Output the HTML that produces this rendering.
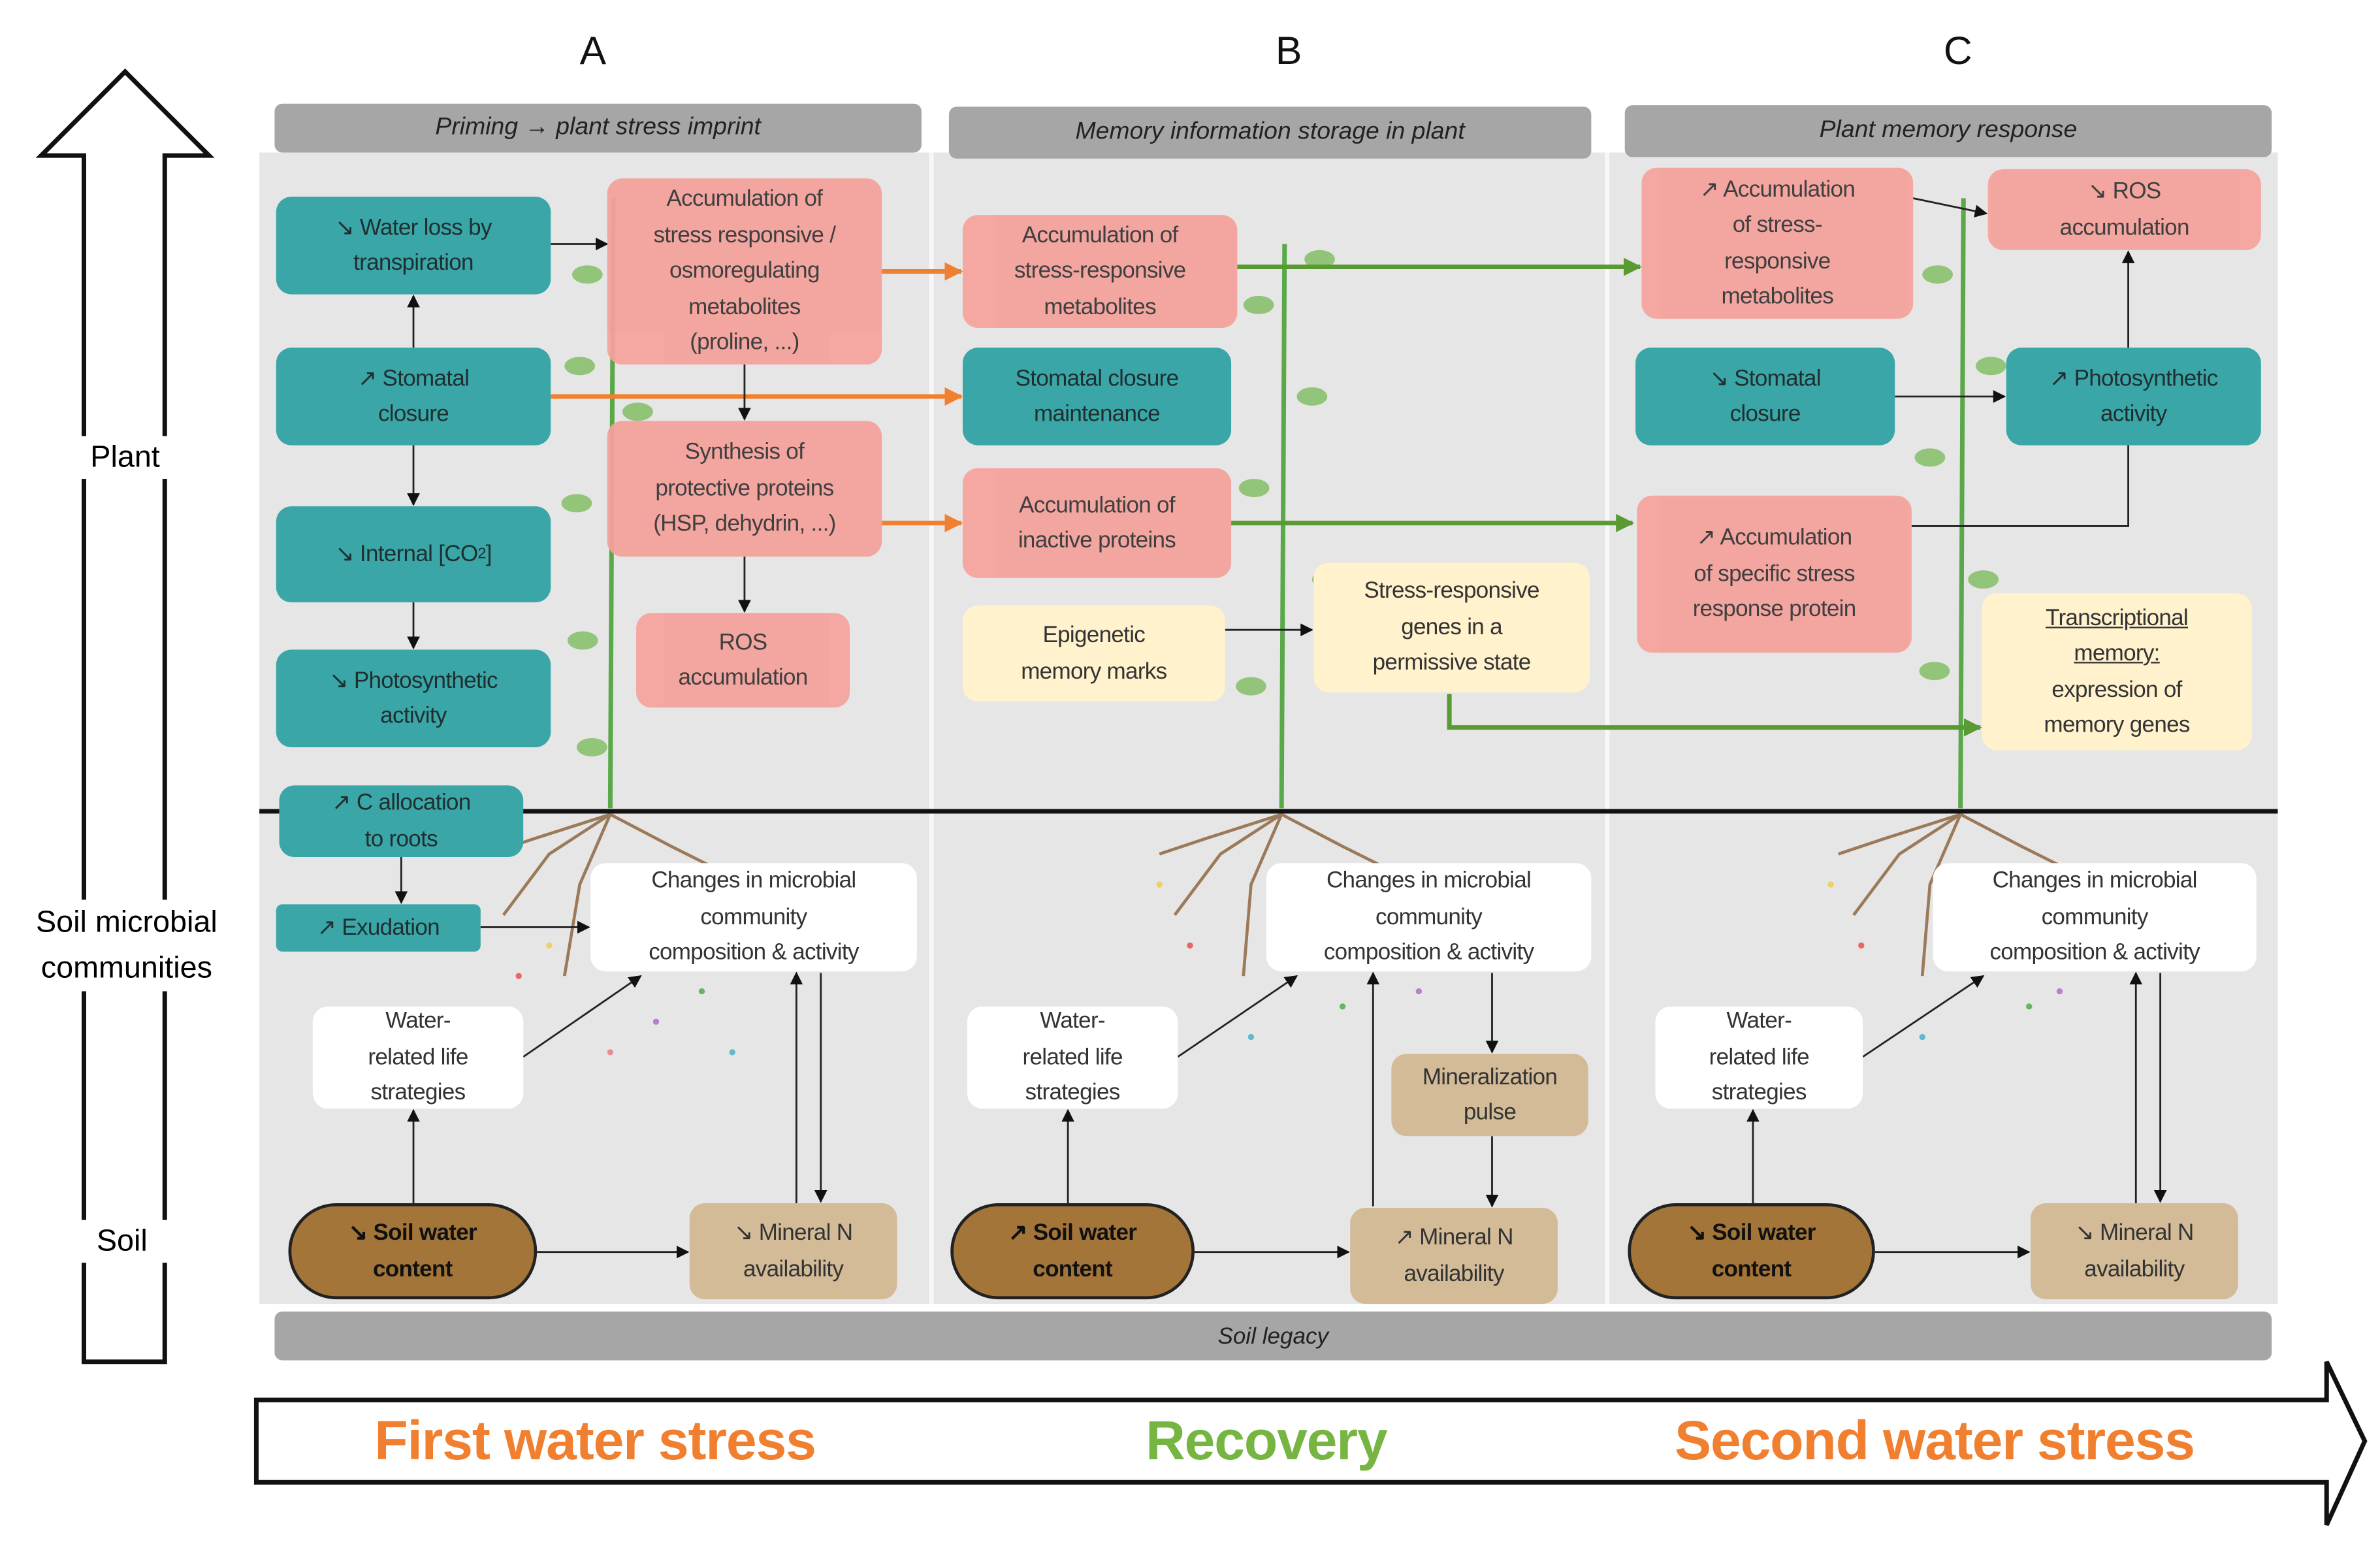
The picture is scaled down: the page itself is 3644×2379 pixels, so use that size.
<!DOCTYPE html>
<html><head><meta charset="utf-8"><style>
html,body{margin:0;padding:0;background:#fff;overflow:hidden}
#w{width:3644px;height:2379px;position:relative;overflow:hidden}
#s{position:absolute;left:0;top:0;width:1560px;height:1019px;transform:scale(2.3359,2.3346);transform-origin:0 0;font-family:"Liberation Sans",sans-serif}
.b{position:absolute;display:flex;align-items:center;justify-content:center;text-align:center;font-size:15px;line-height:23.5px;color:#333;border-radius:10px;box-sizing:border-box;padding:0 2px;white-space:nowrap;letter-spacing:-0.3px}
.t{background:#3aa6a8;color:#1f2f30}
.p{background:#f5a19b;opacity:.93}
.y{background:#fff2cc}
.w{background:#fff}
.br{background:#a47538;border:2px solid #222;border-radius:32px;color:#111;font-weight:bold}
.tn{background:#d3bb98}
.h{position:absolute;background:#a6a6a6;border-radius:5px;display:flex;align-items:center;justify-content:center;font-style:italic;font-size:16px;color:#222}
.L{position:absolute;font-size:26px;color:#111}
svg{position:absolute;left:0;top:0}
</style></head><body><div id="w"><div id="s">
<div style="position:absolute;left:170px;top:100px;width:1323px;height:755px;background:#e6e6e6"></div>
<div style="position:absolute;left:609px;top:100px;width:3px;height:755px;background:#f7f7f7"></div>
<div style="position:absolute;left:1052px;top:100px;width:3px;height:755px;background:#f7f7f7"></div>
<div class="L" style="left:380px;top:18px">A</div>
<div class="L" style="left:836px;top:18px">B</div>
<div class="L" style="left:1274px;top:18px">C</div>
<div class="h" style="left:180px;top:68px;width:424px;height:32px">Priming → plant stress imprint</div>
<div class="h" style="left:622px;top:70px;width:421px;height:34px">Memory information storage in plant</div>
<div class="h" style="left:1065px;top:69px;width:424px;height:34px">Plant memory response</div>
<div class="h" style="left:180px;top:860px;width:1309px;height:32px;font-size:15px">Soil legacy</div>

<svg width="1560" height="1019" viewBox="0 0 1560 1019">
<defs>
<marker id="k" viewBox="0 0 10 10" refX="9" refY="5" markerWidth="7" markerHeight="7" orient="auto"><path d="M0,0L10,5L0,10z" fill="#111"/></marker>
<marker id="o" viewBox="0 0 10 10" refX="9" refY="5" markerWidth="4" markerHeight="5" orient="auto"><path d="M0,0L10,5L0,10z" fill="#f07f2f"/></marker>
<marker id="g" viewBox="0 0 10 10" refX="9" refY="5" markerWidth="4" markerHeight="5" orient="auto"><path d="M0,0L10,5L0,10z" fill="#5a9a32"/></marker>
</defs>
<path d="M55,893 L55,102 L27,102 L82,47 L137,102 L108,102 L108,893 Z" fill="#fff" stroke="#111" stroke-width="3"/>
<path d="M168,918 L1525,918 L1525,893 L1550,945 L1525,1000 L1525,972 L168,972 Z" fill="#fff" stroke="#111" stroke-width="3"/>
<g stroke="#5aa84a" stroke-width="3" fill="none">
<path d="M402,130 L400,530"/><path d="M842,160 L840,530"/><path d="M1287,130 L1285,530"/>
</g>
<g fill="#7dbb5e" opacity=".8">
<ellipse cx="385" cy="180" rx="10" ry="6"/><ellipse cx="380" cy="240" rx="10" ry="6"/><ellipse cx="378" cy="330" rx="10" ry="6"/><ellipse cx="382" cy="420" rx="10" ry="6"/><ellipse cx="388" cy="490" rx="10" ry="6"/><ellipse cx="418" cy="270" rx="10" ry="6"/>
<ellipse cx="825" cy="200" rx="10" ry="6"/><ellipse cx="860" cy="260" rx="10" ry="6"/><ellipse cx="822" cy="320" rx="10" ry="6"/><ellipse cx="870" cy="380" rx="10" ry="6"/><ellipse cx="820" cy="450" rx="10" ry="6"/><ellipse cx="865" cy="170" rx="10" ry="6"/>
<ellipse cx="1270" cy="180" rx="10" ry="6"/><ellipse cx="1305" cy="240" rx="10" ry="6"/><ellipse cx="1265" cy="300" rx="10" ry="6"/><ellipse cx="1300" cy="380" rx="10" ry="6"/><ellipse cx="1268" cy="440" rx="10" ry="6"/>
</g>
<g stroke="#9b7a5a" stroke-width="2" fill="none">
<path d="M400,534 L360,560 L330,600"/><path d="M400,534 L440,555 L470,570"/><path d="M400,534 L380,580 L370,640"/><path d="M400,534 L350,550 L320,560"/>
<path d="M840,534 L800,560 L770,600"/><path d="M840,534 L880,555 L910,570"/><path d="M840,534 L820,580 L815,640"/><path d="M840,534 L790,550 L760,560"/>
<path d="M1285,534 L1245,560 L1215,600"/><path d="M1285,534 L1325,555 L1355,570"/><path d="M1285,534 L1265,580 L1260,640"/><path d="M1285,534 L1235,550 L1205,560"/>
</g>
<line x1="170" y1="532" x2="1493" y2="532" stroke="#111" stroke-width="3"/>
<g stroke="#f07f2f" stroke-width="3" fill="none" marker-end="url(#o)">
<path d="M578,178 L630,178"/><path d="M361,260 L630,260"/><path d="M578,343 L630,343"/>
</g>
<g stroke="#5a9a32" stroke-width="3" fill="none" marker-end="url(#g)">
<path d="M811,175 L1075,175"/><path d="M807,343 L1070,343"/><path d="M950,455 L950,477 L1298,477"/>
</g>
<g stroke="#222" stroke-width="1.2" fill="none" marker-end="url(#k)">
<path d="M361,160 L398,160"/><path d="M271,228 L271,194"/><path d="M271,292 L271,331"/><path d="M271,395 L271,425"/>
<path d="M488,239 L488,275"/><path d="M488,365 L488,401"/>
<path d="M263,562 L263,592"/><path d="M315,608 L386,608"/><path d="M343,693 L420,640"/>
<path d="M271,789 L271,728"/><path d="M352,821 L451,821"/><path d="M522,789 L522,638"/><path d="M538,638 L538,788"/>
<path d="M803,413 L860,413"/><path d="M772,693 L850,640"/><path d="M700,789 L700,728"/><path d="M783,821 L884,821"/>
<path d="M900,791 L900,638"/><path d="M978,638 L978,690"/><path d="M978,745 L978,791"/>
<path d="M1254,130 L1302,140"/><path d="M1242,260 L1314,260"/><path d="M1253,345 L1395,345 L1395,165"/>
<path d="M1221,693 L1300,640"/><path d="M1149,789 L1149,728"/><path d="M1229,821 L1330,821"/><path d="M1400,789 L1400,638"/><path d="M1416,638 L1416,788"/>
</g>
<g opacity=".8">
<circle cx="340" cy="640" r="2" fill="#e44"/><circle cx="460" cy="650" r="2" fill="#4a4"/><circle cx="430" cy="670" r="2" fill="#a6c"/><circle cx="360" cy="620" r="2" fill="#ec4"/><circle cx="480" cy="690" r="2" fill="#4ac"/><circle cx="400" cy="690" r="2" fill="#e77"/>
<circle cx="780" cy="620" r="2" fill="#e44"/><circle cx="880" cy="660" r="2" fill="#4a4"/><circle cx="930" cy="650" r="2" fill="#a6c"/><circle cx="760" cy="580" r="2" fill="#ec4"/><circle cx="820" cy="680" r="2" fill="#4ac"/>
<circle cx="1220" cy="620" r="2" fill="#e44"/><circle cx="1330" cy="660" r="2" fill="#4a4"/><circle cx="1350" cy="650" r="2" fill="#a6c"/><circle cx="1200" cy="580" r="2" fill="#ec4"/><circle cx="1260" cy="680" r="2" fill="#4ac"/>
</g>
</svg>

<div style="position:absolute;left:48px;top:286px;width:68px;text-align:center;background:#fff;font-size:20px;line-height:28px">Plant</div>
<div style="position:absolute;left:5px;top:590px;width:156px;text-align:center;background:#fff;font-size:20px;line-height:30px">Soil microbial communities</div>
<div style="position:absolute;left:50px;top:800px;width:60px;text-align:center;background:#fff;font-size:20px;line-height:28px">Soil</div>

<!-- A -->
<div class="b t" style="left:181px;top:129px;width:180px;height:64px">↘ Water loss by<br>transpiration</div>
<div class="b t" style="left:181px;top:228px;width:180px;height:64px">↗ Stomatal<br>closure</div>
<div class="b t" style="left:181px;top:332px;width:180px;height:63px">↘ Internal [CO<sub style="font-size:10px">2</sub>]</div>
<div class="b t" style="left:181px;top:426px;width:180px;height:64px">↘ Photosynthetic<br>activity</div>
<div class="b p" style="left:398px;top:117px;width:180px;height:122px">Accumulation of<br>stress responsive /<br>osmoregulating<br>metabolites<br>(proline, ...)</div>
<div class="b p" style="left:398px;top:276px;width:180px;height:89px">Synthesis of<br>protective proteins<br>(HSP, dehydrin, ...)</div>
<div class="b p" style="left:417px;top:402px;width:140px;height:62px">ROS<br>accumulation</div>
<div class="b t" style="left:183px;top:515px;width:160px;height:47px">↗ C allocation<br>to roots</div>
<div class="b t" style="left:181px;top:593px;width:134px;height:31px;border-radius:4px">↗ Exudation</div>
<div class="b w" style="left:387px;top:566px;width:214px;height:71px">Changes in microbial<br>community<br>composition &amp; activity</div>
<div class="b w" style="left:205px;top:660px;width:138px;height:67px">Water-<br>related life<br>strategies</div>
<div class="b br" style="left:189px;top:789px;width:163px;height:63px">↘ Soil water<br>content</div>
<div class="b tn" style="left:452px;top:789px;width:136px;height:63px">↘ Mineral N<br>availability</div>
<!-- B -->
<div class="b p" style="left:631px;top:141px;width:180px;height:74px">Accumulation of<br>stress-responsive<br>metabolites</div>
<div class="b t" style="left:631px;top:228px;width:176px;height:64px">Stomatal closure<br>maintenance</div>
<div class="b p" style="left:631px;top:307px;width:176px;height:72px">Accumulation of<br>inactive proteins</div>
<div class="b y" style="left:631px;top:397px;width:172px;height:63px">Epigenetic<br>memory marks</div>
<div class="b y" style="left:861px;top:369px;width:181px;height:85px">Stress-responsive<br>genes in a<br>permissive state</div>
<div class="b w" style="left:830px;top:566px;width:213px;height:71px">Changes in microbial<br>community<br>composition &amp; activity</div>
<div class="b w" style="left:634px;top:660px;width:138px;height:67px">Water-<br>related life<br>strategies</div>
<div class="b tn" style="left:912px;top:691px;width:129px;height:54px">Mineralization<br>pulse</div>
<div class="b br" style="left:623px;top:789px;width:160px;height:63px">↗ Soil water<br>content</div>
<div class="b tn" style="left:885px;top:792px;width:136px;height:63px">↗ Mineral N<br>availability</div>
<!-- C -->
<div class="b p" style="left:1076px;top:110px;width:178px;height:99px">↗ Accumulation<br>of stress-<br>responsive<br>metabolites</div>
<div class="b p" style="left:1303px;top:111px;width:179px;height:53px">↘ ROS<br>accumulation</div>
<div class="b t" style="left:1072px;top:228px;width:170px;height:64px">↘ Stomatal<br>closure</div>
<div class="b t" style="left:1315px;top:228px;width:167px;height:64px">↗ Photosynthetic<br>activity</div>
<div class="b p" style="left:1073px;top:325px;width:180px;height:103px">↗ Accumulation<br>of specific stress<br>response protein</div>
<div class="b y" style="left:1299px;top:389px;width:177px;height:103px"><span><u>Transcriptional<br>memory:</u><br>expression of<br>memory genes</span></div>
<div class="b w" style="left:1267px;top:566px;width:212px;height:71px">Changes in microbial<br>community<br>composition &amp; activity</div>
<div class="b w" style="left:1085px;top:660px;width:136px;height:67px">Water-<br>related life<br>strategies</div>
<div class="b br" style="left:1067px;top:789px;width:162px;height:63px">↘ Soil water<br>content</div>
<div class="b tn" style="left:1331px;top:789px;width:136px;height:63px">↘ Mineral N<br>availability</div>

<div style="position:absolute;left:200px;top:918px;width:380px;text-align:center;font-size:36px;line-height:54px;color:#f07f2f;font-weight:bold;letter-spacing:-0.5px">First water stress</div>
<div style="position:absolute;left:680px;top:918px;width:300px;text-align:center;font-size:36px;line-height:54px;color:#77b543;font-weight:bold;letter-spacing:-0.5px">Recovery</div>
<div style="position:absolute;left:1060px;top:918px;width:416px;text-align:center;font-size:36px;line-height:54px;color:#f07f2f;font-weight:bold;letter-spacing:-0.5px">Second water stress</div>
</div></div></body></html>
